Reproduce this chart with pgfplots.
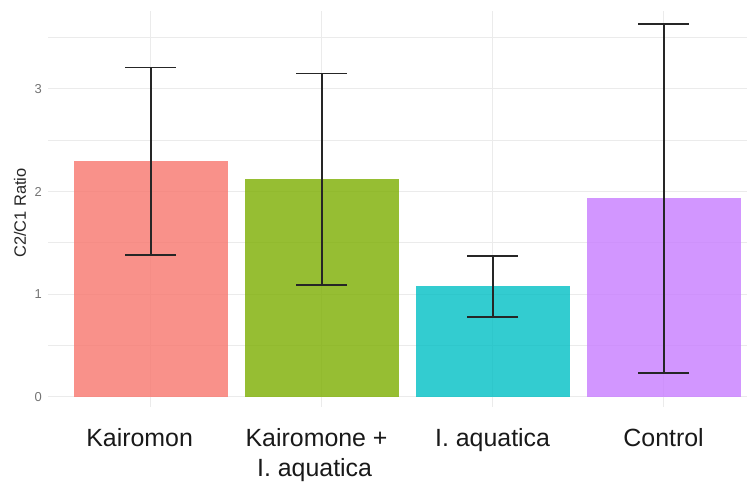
\documentclass[border=0pt]{standalone}
\usepackage{pgfplots}
\pgfplotsset{compat=1.18}
\usepackage{fontspec}
\setmainfont{Liberation Sans}
\definecolor{gridc}{HTML}{EBEBEB}
\definecolor{cA}{HTML}{F8766D}
\definecolor{cB}{HTML}{7CAE00}
\definecolor{cC}{HTML}{00BFC4}
\definecolor{cD}{HTML}{C77CFF}
\definecolor{errc}{HTML}{262626}
\begin{document}
\begin{tikzpicture}
\path[use as bounding box] (0bp,0bp) rectangle (747bp,482bp);
\begin{axis}[
  at={(48bp,75bp)}, anchor=south west,
  scale only axis, width=699bp, height=396bp,
  xmin=0.4, xmax=4.488, ymin=-0.1, ymax=3.76,
  xtick={1,2,3,4},
  xticklabels={\kern-22bp Kairomon,{\kern-10bp Kairomone +\\\kern-14bp I. aquatica},I. aquatica,Control},
  ytick={0,1,2,3},
  minor ytick={0.5,1.5,2.5,3.5},
  grid=both,
  major grid style={gridc, line width=1bp},
  minor grid style={gridc, line width=0.8bp},
  axis line style={draw=none},
  major tick length=0pt, minor tick length=0pt,
  /pgf/number format/assume math mode=true,
  yticklabel style={font=\fontsize{13}{15}\selectfont, text=black!55, inner sep=0pt, anchor=east, xshift=-6bp},
  xticklabel style={font=\fontsize{25}{30}\selectfont, text=black!90, align=center, inner sep=0pt, anchor=north, yshift=-21bp},
  ylabel={C2/C1 Ratio},
  every axis y label/.style={at={(axis description cs:0,0.49)}, rotate=90, anchor=center, yshift=28bp, font=\fontsize{16.5}{18}\selectfont, text=black!85},
]
\addplot[ybar, bar width=0.9, bar shift=0pt, fill=cA, fill opacity=0.8, draw=none] coordinates {(1,2.30)};
\addplot[ybar, bar width=0.9, bar shift=0pt, fill=cB, fill opacity=0.8, draw=none] coordinates {(2,2.12)};
\addplot[ybar, bar width=0.9, bar shift=0pt, fill=cC, fill opacity=0.8, draw=none] coordinates {(3,1.08)};
\addplot[ybar, bar width=0.9, bar shift=0pt, fill=cD, fill opacity=0.8, draw=none] coordinates {(4,1.94)};
\addplot[draw=none, mark=none,
  error bars/y dir=both, error bars/y explicit,
  error bars/error bar style={/tikz/line width=1.9bp, /tikz/draw=errc},
  error bars/error mark options={rotate=90, mark size=25.5bp, line width=1.8bp, draw=errc}]
  coordinates {
  (1,2.30) += (0,0.91) -= (0,0.92)
  (2,2.12) += (0,1.03) -= (0,1.03)
  (3,1.08) += (0,0.29) -= (0,0.30)
  (4,1.94) += (0,1.69) -= (0,1.71)
  };
\end{axis}
\end{tikzpicture}
\end{document}
